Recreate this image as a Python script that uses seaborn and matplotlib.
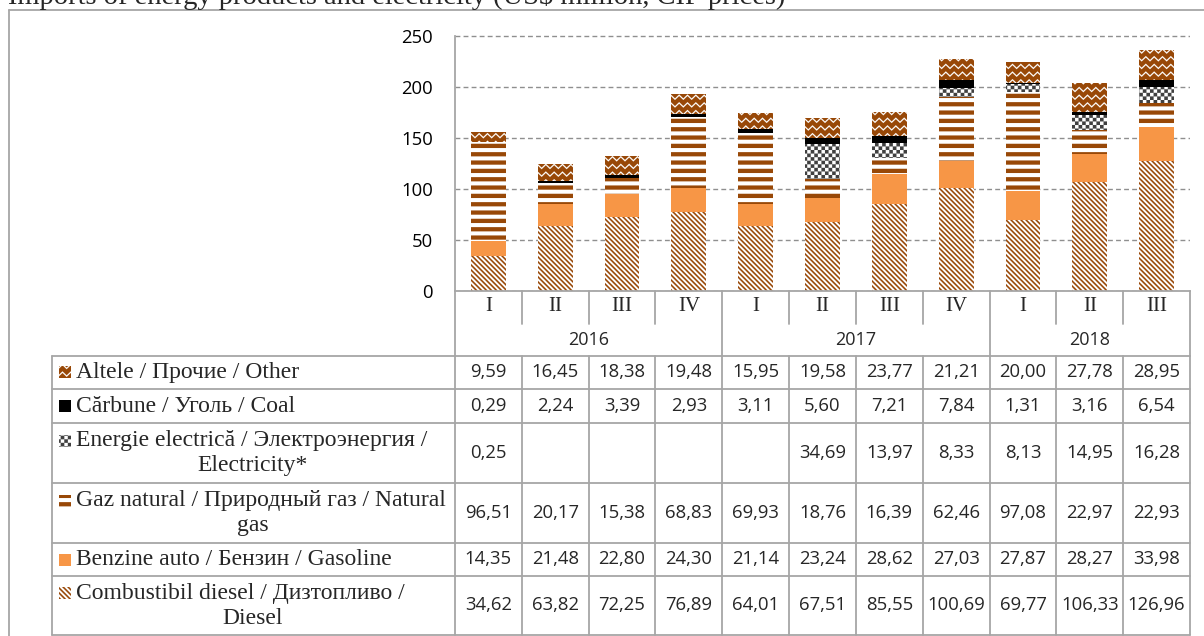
import numpy as np
import pandas as pd
import matplotlib
matplotlib.use("Agg")
import matplotlib.pyplot as plt
import matplotlib.hatch as mhatch
from matplotlib.lines import Line2D
from matplotlib.patches import Rectangle
from matplotlib.path import Path
import seaborn as sns

TITLE = "Imports of energy products and electricity (US$ million, CIF prices)"
QUARTERS = ["I", "II", "III", "IV", "I", "II", "III", "IV", "I", "II", "III"]
YEARS = ["2016", "2017", "2018"]
YEAR_SPANS = [4, 4, 3]

OTHER = [9.59, 16.45, 18.38, 19.48, 15.95, 19.58, 23.77, 21.21, 20.00, 27.78, 28.95]
COAL = [0.29, 2.24, 3.39, 2.93, 3.11, 5.60, 7.21, 7.84, 1.31, 3.16, 6.54]
ELECTRICITY = [0.25, np.nan, np.nan, np.nan, np.nan, 34.69, 13.97, 8.33, 8.13, 14.95, 16.28]
NATURAL_GAS = [96.51, 20.17, 15.38, 68.83, 69.93, 18.76, 16.39, 62.46, 97.08, 22.97, 22.93]
GASOLINE = [14.35, 21.48, 22.80, 24.30, 21.14, 23.24, 28.62, 27.03, 27.87, 28.27, 33.98]
DIESEL = [34.62, 63.82, 72.25, 76.89, 64.01, 67.51, 85.55, 100.69, 69.77, 106.33, 126.96]

LABELS = {
    "other": ("Altele / Прочие / Other", None),
    "coal": ("Cărbune / Уголь / Coal", None),
    "electricity": ("Energie electrică / Электроэнергия /", "Electricity*"),
    "gas": ("Gaz natural / Природный газ / Natural", "gas"),
    "gasoline": ("Benzine auto / Бензин / Gasoline", None),
    "diesel": ("Combustibil diesel / Дизтопливо /", "Diesel"),
}

BROWN = "#984807"
ORANGE = "#F79646"
CHECK = "#404040"
GRID = "#8f8f8f"
RULE = "#a6a6a6"
SERIF = ["Liberation Serif", "DejaVu Serif"]

# face colour, hatch colour, hatch
STYLES = {
    "diesel": ("white", BROWN, "\\"),
    "gasoline": (ORANGE, ORANGE, None),
    "gas": ("white", BROWN, "-"),
    "electricity": ("white", CHECK, "O"),
    "coal": ("black", "black", None),
    "other": (BROWN, "white", "*"),
}


# --- Excel-like fill patterns, drawn as filled shapes in the hatch tile ---
class ShapeHatch(mhatch.HatchPatternBase):
    char = ""

    def __init__(self, hatch, density):
        self.polys = self.shapes() if self.char in hatch else []
        self.num_vertices = sum(len(p) + 1 for p in self.polys)

    def shapes(self):
        return []

    def set_vertices_and_codes(self, vertices, codes):
        i = 0
        for poly in self.polys:
            n = len(poly)
            vertices[i:i + n] = poly
            vertices[i + n] = poly[0]
            codes[i] = Path.MOVETO
            codes[i + 1:i + n] = Path.LINETO
            codes[i + n] = Path.CLOSEPOLY
            i += n + 1


class StripeHatch(ShapeHatch):
    char = "-"

    def shapes(self):
        h = 0.042
        return [[(0, y), (1, y), (1, y + h), (0, y + h)] for y in np.arange(12) / 12 + 0.02]


class DiagHatch(ShapeHatch):
    char = "\\"

    def shapes(self):
        p, w = 1 / 20, 0.022
        out = []
        for k in range(41):
            c = k * p
            out.append([(c, 0), (c + w, 0), (c + w - 1, 1), (c - 1, 1)])
        return out


class ZigzagHatch(ShapeHatch):
    char = "*"

    def shapes(self):
        rows, teeth, amp, t = 13, 12, 0.04, 0.016
        xs = np.linspace(0, 1, 2 * teeth + 1)
        zig = amp * (np.arange(2 * teeth + 1) % 2)
        out = []
        for r in range(rows):
            y = r / rows + zig
            upper = list(zip(xs, y + t))
            lower = list(zip(xs[::-1], y[::-1]))
            out.append(upper + lower)
        return out


class CheckerHatch(ShapeHatch):
    char = "O"

    def shapes(self):
        n = 28
        s = 1 / n
        return [[(i * s, j * s), ((i + 1) * s, j * s), ((i + 1) * s, (j + 1) * s), (i * s, (j + 1) * s)]
                for i in range(n) for j in range(n) if (i + j) % 2 == 0]


try:
    mhatch._hatch_types[:] = [StripeHatch, DiagHatch, ZigzagHatch, CheckerHatch]
except AttributeError:
    pass

sns.set_style("white")
plt.rcParams["hatch.linewidth"] = 0.05
plt.rcParams["font.family"] = ["Open Sans", "DejaVu Sans"]

W, H = 1204, 636


def fx(px):
    return px / W


def fy(py):
    return 1 - py / H


periods = [f"{y} {q}" for y, n in zip(YEARS, YEAR_SPANS) for q in QUARTERS[:n]]
df = pd.DataFrame({
    "period": periods,
    "diesel": DIESEL,
    "gasoline": GASOLINE,
    "gas": NATURAL_GAS,
    "electricity": ELECTRICITY,
    "coal": COAL,
    "other": OTHER,
})
stack = ["diesel", "gasoline", "gas", "electricity", "coal", "other"]
plot_df = df.fillna(0)

fig = plt.figure(figsize=(W / 100, H / 100), dpi=100)
y_top = 252
px_per_unit = (291 - 35.7) / 250
ax = fig.add_axes([fx(455), fy(291), (1190 - 455) / W, y_top * px_per_unit / H])

bottom = np.zeros(len(df))
for name in stack:
    face, hcol, hatch = STYLES[name]
    sns.barplot(data=plot_df, x="period", y=name, order=periods, ax=ax,
                width=0.52, saturation=1, errorbar=None,
                color=face, facecolor=face, edgecolor=hcol, hatch=hatch,
                linewidth=0, bottom=bottom.copy())
    bottom += plot_df[name].to_numpy()

ax.set_xlim(-0.5, len(periods) - 0.5)
ax.set_ylim(0, y_top)
ax.set_yticks(range(0, 251, 50))
ax.set_xticks([])
ax.set_xlabel("")
ax.set_ylabel("")
ax.tick_params(axis="y", length=0, pad=15.8, labelsize=13.3, labelcolor="black")
ax.yaxis.grid(True, linestyle=(0, (3.5, 2.3)), color=GRID, linewidth=1)
ax.set_axisbelow(True)
for side in ["top", "right"]:
    ax.spines[side].set_visible(False)
for side in ["left", "bottom"]:
    ax.spines[side].set_color(RULE)
    ax.spines[side].set_linewidth(1.3)
ax.spines["left"].set_bounds(0, 250)


def hline(y, x0, x1):
    fig.add_artist(Line2D([fx(x0), fx(x1)], [fy(y), fy(y)], color=RULE, lw=1.3))


def vline(x, y0, y1):
    fig.add_artist(Line2D([fx(x), fx(x)], [fy(y0), fy(y1)], color=RULE, lw=1.3))


# title (cut at the top, as in the source) and chart frame
fig.text(fx(8), fy(3.5), TITLE, ha="left", va="baseline", fontsize=20.5, family=SERIF)
hline(10, 9, W)
vline(9, 10, H)

# category header of the data table
col_x = np.linspace(455, 1190, len(periods) + 1)
year_edges = np.concatenate([[0], np.cumsum(YEAR_SPANS)])
for i, x in enumerate(col_x):
    vline(x, 291, 356 if i in year_edges else 324)
for i, q in enumerate(QUARTERS):
    fig.text(fx((col_x[i] + col_x[i + 1]) / 2), fy(307), q, ha="center", va="center",
             fontsize=15, family=SERIF)
for k, yr in enumerate(YEARS):
    xc = (col_x[year_edges[k]] + col_x[year_edges[k + 1]]) / 2
    fig.text(fx(xc), fy(340), yr, ha="center", va="center", fontsize=13)

# data table
row_y = [356, 389, 423, 483, 543, 576, 635]
for y in row_y:
    hline(y, 52, 1190)
vline(52, 356, 635)
for x in col_x:
    vline(x, 356, 635)

table_rows = ["other", "coal", "electricity", "gas", "gasoline", "diesel"]
for r, name in enumerate(table_rows):
    y0, y1 = row_y[r], row_y[r + 1]
    yc = (y0 + y1) / 2
    line1, line2 = LABELS[name]
    ys = [yc] if line2 is None else [yc - 12.5, yc + 12.5]
    fig.text(fx(76), fy(ys[0]), line1, ha="left", va="center", fontsize=17, family=SERIF)
    if line2 is not None:
        fig.text(fx(253), fy(ys[1]), line2, ha="center", va="center", fontsize=17, family=SERIF)
    face, hcol, hatch = STYLES[name]
    fig.add_artist(Rectangle((fx(59), fy(ys[0] + 6)), 12 / W, 12 / H,
                             transform=fig.transFigure, facecolor=face, edgecolor=hcol,
                             hatch=hatch, linewidth=0))
    for i, v in enumerate(df[name]):
        if pd.isna(v):
            continue
        fig.text(fx((col_x[i] + col_x[i + 1]) / 2), fy(yc), f"{v:.2f}".replace(".", ","),
                 ha="center", va="center", fontsize=13.3)

fig.savefig("out.png", dpi=100)
